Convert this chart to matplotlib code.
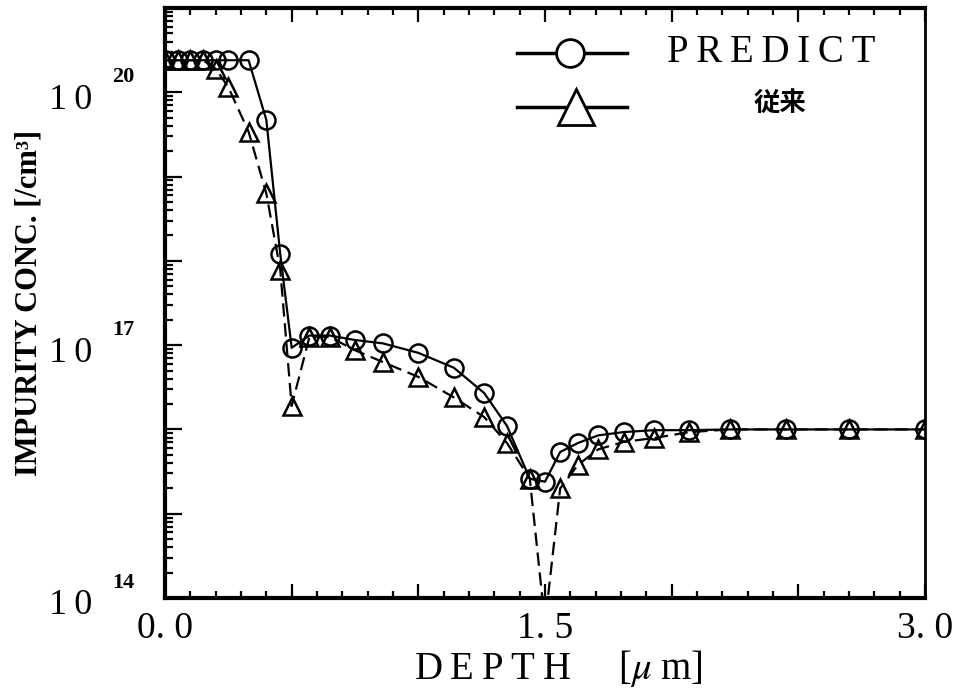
import matplotlib
matplotlib.use('Agg')
import matplotlib.pyplot as plt
import matplotlib.transforms as mtransforms
from matplotlib.ticker import MultipleLocator, LogLocator, NullFormatter

# depth mesh [um]
depth = [0.0, 0.05, 0.1, 0.15, 0.2, 0.25, 0.33, 0.40, 0.455, 0.50,
         0.57, 0.65, 0.75, 0.86, 1.0, 1.14, 1.26, 1.35, 1.44, 1.50,
         1.56, 1.63, 1.71, 1.81, 1.93, 2.07, 2.23, 2.45, 2.70, 3.00]

# PREDICT  [/cm3]
predict = [2.4e20, 2.4e20, 2.4e20, 2.4e20, 2.4e20, 2.4e20, 2.4e20, 4.7e19, 1.2e18, 9.3e16,
           1.3e17, 1.3e17, 1.15e17, 1.05e17, 8.1e16, 5.4e16, 2.7e16, 1.1e16, 2.6e15, 2.4e15,
           5.4e15, 6.9e15, 8.5e15, 9.3e15, 9.8e15, 9.8e15, 1.0e16, 1.0e16, 1.0e16, 1.0e16]

# 従来 (conventional)  [/cm3]
conventional = [2.4e20, 2.4e20, 2.4e20, 2.4e20, 1.9e20, 1.15e20, 3.4e19, 6.3e18, 7.8e17, 1.9e16,
                1.25e17, 1.25e17, 8.7e16, 6.3e16, 4.2e16, 2.4e16, 1.4e16, 6.9e15, 2.6e15, 5.0e13,
                2.0e15, 3.8e15, 5.8e15, 7.1e15, 7.9e15, 9.3e15, 1.0e16, 1.0e16, 1.0e16, 1.0e16]

xtick_pos = [0.0, 0.5, 1.0, 1.5, 2.0, 2.5, 3.0]
xtick_labels = ['0. 0', '', '', '1. 5', '', '', '3. 0']
decades = [14, 17, 20]

serif = ['Liberation Serif', 'DejaVu Serif']
cjk = ['Noto Sans CJK JP', 'DejaVu Sans']
plt.rcParams['mathtext.fontset'] = 'stix'

fig = plt.figure(figsize=(9.56, 6.95), dpi=100)
ax = fig.add_axes([165 / 956, 1 - 598 / 695, 760 / 956, 590 / 695])

ax.plot(depth, predict, 'k-', lw=1.6, marker='o', ms=13, mfc='none', mew=1.8)
ax.plot(depth, conventional, 'k--', lw=1.6, dashes=(6, 3), marker='^', ms=13,
        mfc='none', mew=1.8)

ax.set_yscale('log')
ax.set_xlim(0, 3.0)
ax.set_ylim(1e14, 1e21)

ax.set_xticks(xtick_pos)
ax.set_xticklabels(xtick_labels, family=serif, fontsize=27)
ax.xaxis.set_minor_locator(MultipleLocator(0.1))
ax.yaxis.set_major_locator(LogLocator(base=10, numticks=20))
ax.yaxis.set_minor_locator(LogLocator(base=10, subs=range(2, 10), numticks=20))
ax.yaxis.set_major_formatter(NullFormatter())
ax.yaxis.set_minor_formatter(NullFormatter())

ax.tick_params(which='both', direction='in', top=True, right=False, width=1.6)
ax.tick_params(axis='x', which='major', length=10, pad=10)
ax.tick_params(axis='x', which='minor', length=5)
ax.tick_params(axis='y', which='major', length=12)
ax.tick_params(axis='y', which='minor', length=6)

for side in ['left', 'bottom', 'top']:
    ax.spines[side].set_linewidth(3)
ax.spines['right'].set_linewidth(2)

# y tick labels written as "10" with the exponent up and to the right
ytrans = ax.get_yaxis_transform()
down = mtransforms.ScaledTranslation(0, -8 / 100, fig.dpi_scale_trans)
up = mtransforms.ScaledTranslation(0, 15 / 100, fig.dpi_scale_trans)
for e in decades:
    ax.text(-0.124, 10.0 ** e, '1\u20090', transform=ytrans + down, ha='center', va='center',
            family=serif, fontsize=26, clip_on=False)
    ax.text(-0.055, 10.0 ** e, str(e), transform=ytrans + up, ha='center', va='center',
            family=serif, fontsize=16, fontweight='bold', clip_on=False)

ax.set_xlabel('D\u2009E\u2009P\u2009T\u2009H     [$\\mu$\u2009m]', family=serif, fontsize=28)
ax.xaxis.set_label_coords(0.517, -0.085)
ax.set_ylabel('IMPURITY CONC. [/cm\u00b3]', family=serif, fontsize=22, fontweight='bold')
ax.yaxis.set_label_coords(-0.16, 0.50)

# legend drawn by hand
ax.plot([0.463, 0.608], [0.924, 0.924], 'k-', lw=2.5, transform=ax.transAxes, clip_on=False)
ax.plot([0.533], [0.924], 'o', ms=20, mfc='white', mec='k', mew=2,
        transform=ax.transAxes, clip_on=False)
ax.plot([0.463, 0.608], [0.833, 0.833], 'k-', lw=2.5, transform=ax.transAxes, clip_on=False)
ax.plot([0.541], [0.833], '^', ms=26, mfc='white', mec='k', mew=2,
        transform=ax.transAxes, clip_on=False)
ax.text(0.661, 0.924, 'P\u2009R\u2009E\u2009D\u2009I\u2009C\u2009T', transform=ax.transAxes,
        ha='left', va='center', family=serif, fontsize=28)
ax.text(0.809, 0.838, '従来', transform=ax.transAxes, ha='center', va='center',
        family=cjk, fontsize=19, fontweight='bold')

fig.savefig('out.png', dpi=100)
